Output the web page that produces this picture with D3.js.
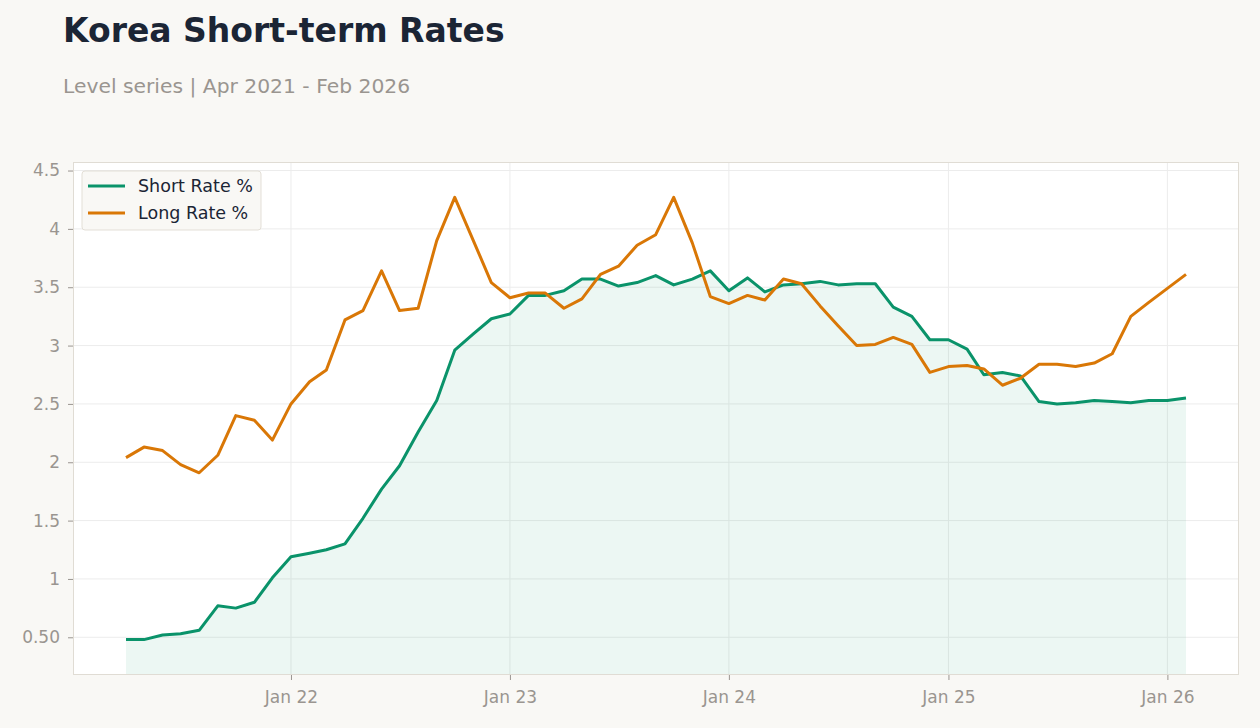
<!DOCTYPE html>
<html>
<head>
<meta charset="utf-8">
<script src="https://cdn.jsdelivr.net/npm/d3@7"></script>
<style>
  body { margin: 0; background: #f9f8f5; }
  svg { display: block; font-family: "DejaVu Sans", sans-serif; }
  .grid line { stroke: #ececec; }
  .axis text { fill: #9a9590; font-size: 17px; font-family: "DejaVu Sans", sans-serif; }
  .axis line { stroke: #9a9590; }
</style>
</head>
<body>
<div id="chart"></div>
<script>
var width = 1260,
    height = 728;

var margin = {top: 162, right: 21, bottom: 53, left: 73};

// monthly, Apr 2021 - Feb 2026
var months = d3.timeMonths(new Date(2021, 3, 1), new Date(2026, 2, 1));

var shortRate = [0.48, 0.48, 0.52, 0.53, 0.56, 0.77, 0.75, 0.80, 1.01,
  1.19, 1.22, 1.25, 1.30, 1.52, 1.77, 1.97, 2.26, 2.53, 2.96, 3.10, 3.23,
  3.27, 3.43, 3.43, 3.47, 3.57, 3.57, 3.51, 3.54, 3.60, 3.52, 3.57, 3.64,
  3.47, 3.58, 3.46, 3.52, 3.53, 3.55, 3.52, 3.53, 3.53, 3.33, 3.25, 3.05,
  3.05, 2.97, 2.75, 2.77, 2.74, 2.52, 2.50, 2.51, 2.53, 2.52, 2.51, 2.53,
  2.53, 2.55];

var longRate = [2.04, 2.13, 2.10, 1.98, 1.91, 2.06, 2.40, 2.36, 2.19,
  2.50, 2.69, 2.79, 3.22, 3.30, 3.64, 3.30, 3.32, 3.90, 4.27, 3.90, 3.54,
  3.41, 3.45, 3.45, 3.32, 3.40, 3.61, 3.68, 3.86, 3.95, 4.27, 3.88, 3.42,
  3.36, 3.43, 3.39, 3.57, 3.53, 3.34, 3.17, 3.00, 3.01, 3.07, 3.01, 2.77,
  2.82, 2.83, 2.80, 2.66, 2.72, 2.84, 2.84, 2.82, 2.85, 2.93, 3.25, 3.37,
  3.49, 3.61];

var seriesNames = ["Short Rate %", "Long Rate %"];
var colors = ["#0a936a", "#d97706"];

var yTicks = [0.5, 1, 1.5, 2, 2.5, 3, 3.5, 4, 4.5];
var yTickLabels = ["0.50", "1", "1.5", "2", "2.5", "3", "3.5", "4", "4.5"];
var xTicks = [new Date(2022, 0, 1), new Date(2023, 0, 1), new Date(2024, 0, 1), new Date(2025, 0, 1), new Date(2026, 0, 1)];
var xTickLabels = ["Jan 22", "Jan 23", "Jan 24", "Jan 25", "Jan 26"];

var svg = d3.select("#chart")
    .append("svg")
    .attr("width", width)
    .attr("height", height);

// titles
svg.append("text")
    .attr("x", 63)
    .attr("y", 42)
    .style("font-size", "33px")
    .style("font-weight", "bold")
    .style("fill", "#1b2535")
    .text("Korea Short-term Rates");

svg.append("text")
    .attr("x", 63)
    .attr("y", 93)
    .style("font-size", "20.3px")
    .style("fill", "#9a9590")
    .text("Level series | Apr 2021 - Feb 2026");

var w = width - margin.left - margin.right,
    h = height - margin.top - margin.bottom;

var g = svg.append("g")
    .attr("transform", "translate(" + margin.left + "," + margin.top + ")");

// x domain padded 5% each side
var xExt = d3.extent(months);
var xPad = (xExt[1] - xExt[0]) * 0.05;
var x = d3.scaleTime()
    .domain([new Date(+xExt[0] - xPad), new Date(+xExt[1] + xPad)])
    .range([0, w]);

var yMin = d3.min(shortRate.concat(longRate)),
    yMax = d3.max(shortRate.concat(longRate));
var yPad = (yMax - yMin) * 0.08;
var y = d3.scaleLinear()
    .domain([yMin - yPad, yMax + yPad])
    .range([h, 0]);

g.append("rect")
    .attr("width", w)
    .attr("height", h)
    .style("fill", "#fff");

// grid
var grid = g.append("g").attr("class", "grid");
grid.selectAll(".hg")
    .data(yTicks)
    .enter().append("line")
    .attr("x1", 0).attr("x2", w)
    .attr("y1", function (d) { return y(d); })
    .attr("y2", function (d) { return y(d); });
grid.selectAll(".vg")
    .data(xTicks)
    .enter().append("line")
    .attr("y1", 0).attr("y2", h)
    .attr("x1", function (d) { return x(d); })
    .attr("x2", function (d) { return x(d); });

// area under short rate
var area = d3.area()
    .x(function (d, i) { return x(months[i]); })
    .y0(h)
    .y1(function (d) { return y(d); });

g.append("path")
    .datum(shortRate)
    .attr("d", area)
    .style("fill", colors[0])
    .style("fill-opacity", 0.08);

var line = d3.line()
    .x(function (d, i) { return x(months[i]); })
    .y(function (d) { return y(d); });

[shortRate, longRate].forEach(function (s, k) {
    g.append("path")
        .datum(s)
        .attr("d", line)
        .style("fill", "none")
        .style("stroke", colors[k])
        .style("stroke-width", 3)
        .style("stroke-linejoin", "round");
});

// frame
g.append("rect")
    .attr("x", 0.5)
    .attr("y", 0.5)
    .attr("width", w - 1)
    .attr("height", h - 1)
    .style("fill", "none")
    .style("stroke", "#e0dcd4");

// axes
var yAxis = d3.axisLeft(y)
    .tickValues(yTicks)
    .tickFormat(function (d, i) { return yTickLabels[i]; })
    .tickSize(5)
    .tickPadding(8);

var yg = g.append("g").attr("class", "axis").call(yAxis);
yg.select(".domain").remove();

var xAxis = d3.axisBottom(x)
    .tickValues(xTicks)
    .tickFormat(function (d, i) { return xTickLabels[i]; })
    .tickSize(5)
    .tickPadding(11);

var xg = g.append("g").attr("class", "axis")
    .attr("transform", "translate(0," + h + ")")
    .call(xAxis);
xg.select(".domain").remove();

// legend
var lg = g.append("g").attr("transform", "translate(9,9)");
lg.append("rect")
    .attr("width", 179)
    .attr("height", 59)
    .attr("rx", 3)
    .style("fill", "#f9f8f5")
    .style("stroke", "#e3dfd7");

seriesNames.forEach(function (name, k) {
    var ly = 15 + k * 27;
    lg.append("line")
        .attr("x1", 6).attr("x2", 43)
        .attr("y1", ly).attr("y2", ly)
        .style("stroke", colors[k])
        .style("stroke-width", 3);
    lg.append("text")
        .attr("x", 56)
        .attr("y", ly + 6)
        .style("font-size", "17.5px")
        .style("fill", "#1b2535")
        .text(name);
});
</script>
</body>
</html>
